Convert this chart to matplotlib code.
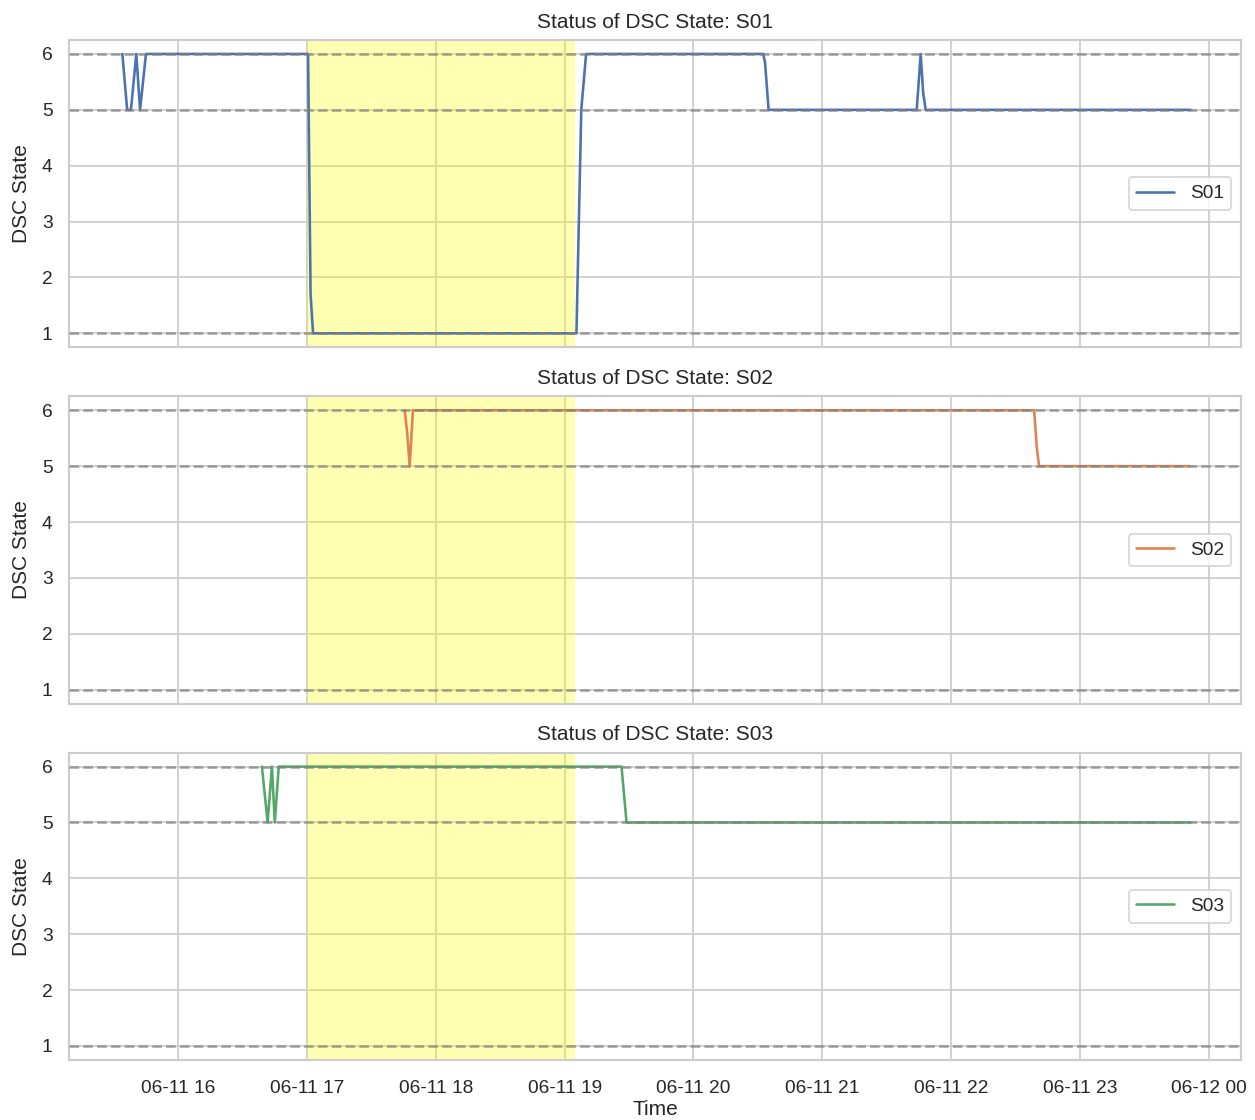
import matplotlib
matplotlib.use('Agg')
import matplotlib.pyplot as plt
import matplotlib.dates as mdates
import seaborn as sns
import pandas as pd

sns.set_theme(style='whitegrid', context='notebook')
plt.rcParams['font.family'] = ['Liberation Sans', 'DejaVu Sans']

day = '2024-06-11 '

s01_times = ['15:34:00', '15:36:15', '15:38:00', '15:40:30', '15:42:15', '15:45:00',
             '17:00:30', '17:01:40', '17:02:50', '19:05:30', '19:07:45', '19:10:00',
             '20:32:30', '20:33:20', '20:35:00', '21:44:00', '21:45:50', '21:47:00',
             '21:48:10', '23:51:30']
s01_values = [6, 5, 5, 6, 5, 6,
              6, 1.7, 1, 1, 5, 6,
              6, 5.85, 5, 5, 6, 5.3,
              5, 5]

s02_times = ['17:45:30', '17:46:40', '17:47:50', '17:49:20', '22:38:40', '22:40:00',
             '22:41:00', '23:51:00']
s02_values = [6, 5.6, 5, 6, 6, 5.3, 5, 5]

s03_times = ['16:39:00', '16:41:40', '16:43:40', '16:45:00', '16:46:50', '19:26:30',
             '19:28:50', '23:51:30']
s03_values = [6, 5, 6, 5, 6, 6, 5, 5]

series_names = ['S01', 'S02', 'S03']
series_times = [s01_times, s02_times, s03_times]
series_values = [s01_values, s02_values, s03_values]
colors = sns.color_palette('deep')[:3]

highlight_start = '17:00:00'
highlight_end = '19:05:00'
ref_levels = [1, 5, 6]

fig, axes = plt.subplots(3, 1, figsize=(10.04, 8.96), dpi=125, sharex=True)
fig.subplots_adjust(left=0.055, right=0.9888, top=0.9643, bottom=0.0536, hspace=0.1595)

for ax, name, times, vals, c in zip(axes, series_names, series_times, series_values, colors):
    t = pd.to_datetime([day + s for s in times])
    ax.axvspan(pd.Timestamp(day + highlight_start), pd.Timestamp(day + highlight_end),
               color='yellow', alpha=0.3, zorder=1, lw=0)
    ax.plot(t, vals, color=c, label=name, zorder=2)
    for lv in ref_levels:
        ax.axhline(lv, color='gray', linestyle='--', alpha=0.7, zorder=3)
    ax.set_title(f'Status of DSC State: {name}', pad=7)
    ax.set_ylabel('DSC State', labelpad=6)
    ax.legend(loc='center right')

axes[0].set_xlim(pd.Timestamp(day + '15:09:10'), pd.Timestamp('2024-06-12 00:15:00'))
axes[-1].xaxis.set_major_locator(mdates.HourLocator())
axes[-1].xaxis.set_major_formatter(mdates.DateFormatter('%m-%d %H'))
axes[-1].tick_params(axis='x', pad=5.5)
axes[-1].set_xlabel('Time', labelpad=2)

fig.savefig('out.png', dpi=125)
